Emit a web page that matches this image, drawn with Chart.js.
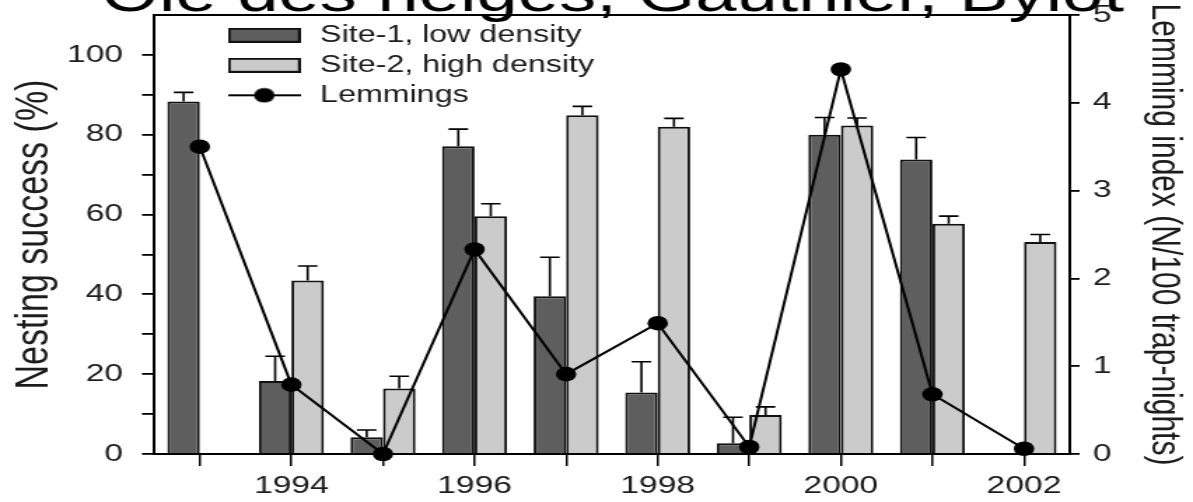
<!DOCTYPE html>
<html>
<head>
<meta charset="utf-8">
<title>Oie des neiges, Gauthier, Bylot</title>
<script src="https://cdn.jsdelivr.net/npm/chart.js@4.4.1/dist/chart.umd.min.js"></script>
<style>
  html, body { margin: 0; padding: 0; background: #fff; overflow: hidden; }
  /* the figure is drawn on an 852px canvas and widened to 1193px */
  #wrap { width: 852px; height: 502px; transform: scaleX(1.40023); transform-origin: 0 0; }
  canvas { display: block; }
</style>
</head>
<body>
<div id="wrap"><canvas id="chart" width="852" height="502"></canvas></div>
<script>
// Nesting success (%) per year at two sites, with standard errors,
// and the lemming abundance index (N/100 trap-nights).
const years = ['1993', '1994', '1995', '1996', '1997', '1998', '1999', '2000', '2001', '2002'];
const site1Success = [88.3, 18.3, 4.2, 77.1, 39.5, 15.4, 2.7, 80.0, 73.8, null];
const site1Se      = [2.3, 6.2, 1.8, 4.3, 9.8, 7.7, 6.5, 4.3, 5.5, null];
const site2Success = [null, 43.5, 16.4, 59.6, 84.9, 82.0, 9.8, 82.3, 57.7, 53.1];
const site2Se      = [null, 3.6, 3.1, 3.1, 2.2, 2.1, 2.0, 1.9, 1.9, 1.9];
const lemmingIndex = [3.5, 0.79, 0.0, 2.33, 0.91, 1.49, 0.08, 4.38, 0.68, 0.06];
const successTicks = [0, 10, 20, 30, 40, 50, 60, 70, 80, 90, 100];
const successLabels = [0, 20, 40, 60, 80, 100];
const lemmingTicks = [0, 1, 2, 3, 4, 5];

const INK = '#111';
const TEXT = '#1c1c1c';
const DARK = '#5e5e5e';
const LIGHT = '#cbcbcb';

Chart.defaults.font.family = "'Liberation Sans', Arial, Helvetica, sans-serif";
Chart.defaults.color = TEXT;

// legend swatches: filled boxes for bars, line with dot for the lemming series
function barSwatch(fill) {
  const c = document.createElement('canvas');
  c.width = 52; c.height = 15;
  const g = c.getContext('2d');
  g.fillStyle = fill;
  g.fillRect(1, 1, 50, 13);
  g.strokeStyle = INK;
  g.lineWidth = 2;
  g.strokeRect(1, 1, 50, 13);
  return c;
}
function lineSwatch() {
  const c = document.createElement('canvas');
  c.width = 52; c.height = 16;
  const g = c.getContext('2d');
  g.strokeStyle = '#000';
  g.lineWidth = 2;
  g.beginPath(); g.moveTo(0, 8); g.lineTo(52, 8); g.stroke();
  g.fillStyle = '#000';
  g.beginPath(); g.arc(26, 8, 7.3, 0, Math.PI * 2); g.fill();
  return c;
}
const swatches = [barSwatch(DARK), barSwatch(LIGHT), lineSwatch()];
const errorsByDataset = [site1Se, site2Se, null];

// upper standard-error whiskers on the bars
const errorBars = {
  id: 'errorBars',
  afterDatasetDraw(chart, args) {
    const errs = errorsByDataset[args.index];
    if (!errs) return;
    const values = chart.data.datasets[args.index].data;
    const yScale = chart.scales[args.meta.yAxisID];
    const ctx = chart.ctx;
    ctx.save();
    ctx.strokeStyle = '#000';
    ctx.lineWidth = 1.6;
    args.meta.data.forEach((bar, i) => {
      const v = values[i], e = errs[i];
      if (v == null || e == null) return;
      const top = yScale.getPixelForValue(v + e);
      ctx.beginPath();
      ctx.moveTo(bar.x, bar.y);
      ctx.lineTo(bar.x, top);
      ctx.moveTo(bar.x - 7, top);
      ctx.lineTo(bar.x + 7, top);
      ctx.stroke();
    });
    ctx.restore();
  }
};

// closed frame around the plotting area
const frame = {
  id: 'frame',
  beforeDatasetsDraw(chart) {
    const {ctx, chartArea: a} = chart;
    ctx.save();
    ctx.strokeStyle = '#000';
    ctx.lineWidth = 2;
    ctx.strokeRect(a.left, a.top, a.right - a.left, a.bottom - a.top);
    ctx.restore();
  }
};

// legend sits in the upper-left of the plot; title centred over the frame
const placeBlocks = {
  id: 'placeBlocks',
  afterLayout(chart) {
    const a = chart.chartArea;
    chart.legend.left = a.left + 43.3;
    chart.legend.top = a.top + 1.8;
    chart.titleBlock.left += 11.5;
    chart.titleBlock.right += 11.5;
  }
};

// axes keep a fixed footprint so the plot frame sits where it should
function fixedWidth(w) {
  return s => { s.width = w; s.paddingTop = 0; s.paddingBottom = 0; };
}

new Chart(document.getElementById('chart'), {
  type: 'bar',
  data: {
    labels: years,
    datasets: [
      {
        label: 'Site-1, low density',
        data: site1Success,
        backgroundColor: DARK,
        borderColor: INK,
        borderWidth: 2,
        yAxisID: 'y',
        order: 1,
        categoryPercentage: 0.71,
        barPercentage: 1.0
      },
      {
        label: 'Site-2, high density',
        data: site2Success,
        backgroundColor: LIGHT,
        borderColor: INK,
        borderWidth: 2,
        yAxisID: 'y',
        order: 2,
        categoryPercentage: 0.71,
        barPercentage: 1.0
      },
      {
        type: 'line',
        label: 'Lemmings',
        data: lemmingIndex,
        yAxisID: 'y1',
        borderColor: '#000',
        borderWidth: 2,
        tension: 0,
        pointRadius: 7.3,
        pointBackgroundColor: '#000',
        pointBorderWidth: 0,
        clip: false,
        order: 0
      }
    ]
  },
  options: {
    responsive: false,
    devicePixelRatio: 1,
    animation: false,
    events: [],
    layout: { padding: 0 },
    plugins: {
      tooltip: { enabled: false },
      title: {
        display: true,
        text: 'Oie des neiges, Gauthier, Bylot',
        color: '#000',
        font: { size: 53, weight: 'normal', lineHeight: 1 },
        padding: { top: -29.9, bottom: -8.1 }
      },
      legend: {
        position: 'chartArea',
        align: 'start',
        labels: {
          usePointStyle: true,
          pointStyleWidth: 56.8,
          boxHeight: 15,
          padding: 7,
          color: TEXT,
          font: { size: 23 },
          generateLabels(chart) {
            const items = Chart.defaults.plugins.legend.labels.generateLabels(chart);
            items.sort((p, q) => p.datasetIndex - q.datasetIndex);
            items.forEach(it => { it.pointStyle = swatches[it.datasetIndex]; });
            return items;
          }
        }
      }
    },
    scales: {
      x: {
        type: 'category',
        offset: true,
        grid: { offset: false, drawOnChartArea: false, drawTicks: true, tickLength: 12, color: '#000', lineWidth: 1.5 },
        border: { display: true, color: '#000', width: 2 },
        ticks: {
          autoSkip: false,
          maxRotation: 0,
          padding: 6,
          color: TEXT,
          font: { size: 24 },
          callback(value, index) {
            const y = years[index];
            return Number(y) % 2 === 0 ? y : '';
          }
        },
        afterFit(s) { s.height = 48; s.paddingLeft = 0; s.paddingRight = 0; }
      },
      y: {
        position: 'left',
        min: 0,
        max: 110,
        afterBuildTicks(s) { s.ticks = successTicks.map(v => ({ value: v })); },
        grid: { drawOnChartArea: false, drawTicks: true, tickLength: 8.6, color: '#000', lineWidth: 1.8 },
        border: { display: true, color: '#000', width: 2 },
        ticks: {
          padding: 13.5,
          color: TEXT,
          font: { size: 24 },
          callback(value) { return successLabels.includes(value) ? String(value) : ''; }
        },
        title: {
          display: true,
          text: 'Nesting success (%)',
          color: TEXT,
          font: { size: 34, lineHeight: 1.2 },
          padding: { top: 4.7, bottom: 0 }
        },
        afterFit: fixedWidth(110)
      },
      y1: {
        position: 'right',
        min: 0,
        max: 5,
        afterBuildTicks(s) { s.ticks = lemmingTicks.map(v => ({ value: v })); },
        grid: { drawOnChartArea: false, drawTicks: true, tickLength: 7, color: '#000', lineWidth: 1.8 },
        border: { display: true, color: '#000', width: 2 },
        ticks: {
          padding: 9.4,
          color: TEXT,
          font: { size: 24 },
          callback(value) { return String(value); }
        },
        title: {
          display: true,
          text: 'Lemming index (N/100 trap-nights)',
          color: TEXT,
          font: { size: 30, lineHeight: 1.2 },
          padding: { top: 3, bottom: 0 }
        },
        afterFit: fixedWidth(88)
      }
    }
  },
  plugins: [errorBars, frame, placeBlocks]
});
</script>
</body>
</html>
